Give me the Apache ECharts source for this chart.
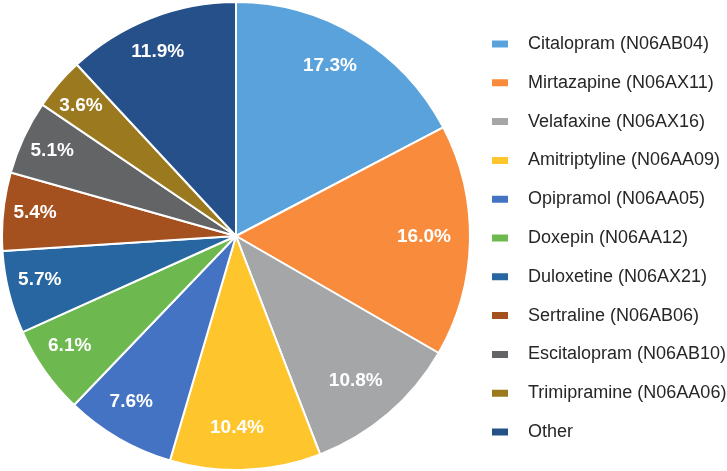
<!DOCTYPE html>
<html>
<head>
<meta charset="utf-8">
<script src="https://cdn.jsdelivr.net/npm/echarts@6/dist/echarts.min.js"></script>
<style>
  html, body { margin: 0; padding: 0; background: #fff; }
  #chart { width: 727px; height: 471px; }
</style>
</head>
<body>
<div id="chart"></div>
<script>
const drugNames = [
  'Citalopram (N06AB04)',
  'Mirtazapine (N06AX11)',
  'Velafaxine (N06AX16)',
  'Amitriptyline (N06AA09)',
  'Opipramol (N06AA05)',
  'Doxepin (N06AA12)',
  'Duloxetine (N06AX21)',
  'Sertraline (N06AB06)',
  'Escitalopram (N06AB10)',
  'Trimipramine (N06AA06)',
  'Other'
]
const shares = [17.3, 16.0, 10.8, 10.4, 7.6, 6.1, 5.7, 5.4, 5.1, 3.6, 11.9]
const sliceColors = [
  '#5aa2dc', '#f98b3c', '#a5a6a8', '#fec52d', '#4573c4', '#6db84f',
  '#2766a0', '#a5501f', '#636466', '#9b7a1f', '#25508a'
]

const font = "'Liberation Sans', Arial, sans-serif"
const center = [236, 236]
const outer = 234

const pieData = drugNames.map((name, i) => ({
  name,
  value: shares[i],
  itemStyle: { color: sliceColors[i] }
}))

const chart = echarts.init(document.getElementById('chart'))

chart.setOption({
  animation: false,
  backgroundColor: '#fff',
  legend: {
    orient: 'vertical',
    left: 490,
    top: 35,
    padding: 0,
    icon: 'rect',
    itemWidth: 18,
    itemHeight: 9,
    itemGap: 20.8,
    selectedMode: false,
    data: drugNames,
    textStyle: {
      fontFamily: font,
      fontSize: 18,
      color: '#262626',
      padding: [0, 0, 0, 14]
    }
  },
  series: [
    {
      name: 'slices',
      type: 'pie',
      center,
      radius: [0, outer],
      startAngle: 90,
      clockwise: true,
      silent: true,
      data: pieData,
      itemStyle: { borderColor: '#fff', borderWidth: 2 },
      label: { show: false },
      labelLine: { show: false }
    },
    {
      // transparent ring used only to place labels further out
      name: 'labels',
      type: 'pie',
      center,
      radius: [150, outer],
      startAngle: 90,
      clockwise: true,
      silent: true,
      data: shares.map((v, i) => ({ name: drugNames[i], value: v })),
      itemStyle: { color: 'rgba(0,0,0,0)' },
      label: {
        show: true,
        position: 'inside',
        formatter: p => p.value.toFixed(1) + '%',
        color: '#fff',
        fontFamily: font,
        fontWeight: 'bold',
        fontSize: 19,
        offset: [-7, -3]
      },
      labelLine: { show: false }
    }
  ]
})
</script>
</body>
</html>
